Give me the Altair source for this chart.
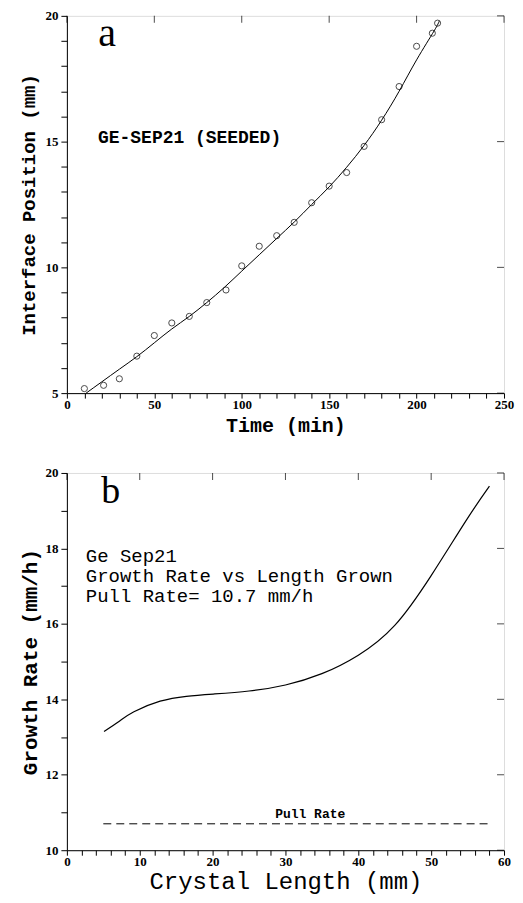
import altair as alt
import pandas as pd

# ---- panel a data ----
t_obs = [10, 21, 30, 40, 50, 60, 70, 80, 91, 100, 110, 120, 130, 140, 150, 160, 170, 180, 190, 200, 209, 212]
pos_obs = [5.18, 5.31, 5.57, 6.47, 7.29, 7.79, 8.05, 8.60, 9.10, 10.06, 10.84, 11.26, 11.79, 12.57, 13.23, 13.77, 14.81, 15.87, 17.19, 18.79, 19.31, 19.71]
t_fit = [11, 20, 30, 40, 50, 60, 70, 80, 90, 100, 110, 120, 130, 140, 150, 160, 170, 180, 190, 200, 210, 213]
pos_fit = [5.0, 5.45, 5.95, 6.45, 7.0, 7.55, 8.05, 8.6, 9.2, 9.85, 10.5, 11.15, 11.8, 12.5, 13.2, 13.98, 14.85, 15.85, 17.0, 18.25, 19.4, 19.8]
xa_major = [0, 50, 100, 150, 200, 250]
ya_major = [5, 10, 15, 20]

# ---- panel b data ----
len_b = [5.1, 7.2, 9.2, 12.8, 16.4, 20.1, 25, 30, 35, 40, 45, 50, 54.9, 58]
rate_b = [13.15, 13.42, 13.67, 13.95, 14.08, 14.14, 14.22, 14.38, 14.68, 15.17, 15.96, 17.28, 18.77, 19.65]
pull_x = [5, 58]
pull_y = [10.7, 10.7]
info_lines = ["Ge Sep21", "Growth Rate vs Length Grown", "Pull Rate= 10.7 mm/h"]
xb_major = [0, 10, 20, 30, 40, 50, 60]
yb_major = [10, 12, 14, 16, 18, 20]

W, H = 438, 378
MONO = "Liberation Mono"
SERIF = "Liberation Serif"


def xaxis(vals, labvals, title, tsize, tweight, tpad):
    lab = " || ".join(f"datum.value == {v}" for v in labvals)
    return alt.Axis(values=vals, labelExpr=f"({lab}) ? datum.label : ''", title=title,
                    titleFont=MONO, titleFontSize=tsize, titleFontWeight=tweight,
                    labelFont=SERIF, labelFontSize=13, labelFontWeight="bold",
                    tickSize=5, labelPadding=0, titlePadding=tpad, grid=False,
                    domainColor="black", tickColor="black", labelColor="black",
                    titleColor="black", labelOverlap=False, labelFlush=False)


def yaxis(vals, labvals, title, tsize, tpad):
    lab = " || ".join(f"datum.value == {v}" for v in labvals)
    return alt.Axis(values=vals, labelExpr=f"({lab}) ? datum.label : ''", title=title,
                    titleFont=MONO, titleFontSize=tsize, titleFontWeight="bold",
                    labelFont=SERIF, labelFontSize=13, labelFontWeight="bold",
                    tickSize=6, labelPadding=3, titlePadding=tpad, grid=False,
                    domainColor="black", tickColor="black", labelColor="black",
                    titleColor="black", labelOverlap=False, labelFlush=False)


def mirror_ticks(xvals, yvals, xs, ys, axx, axy):
    top = alt.Chart(pd.DataFrame({"v": xvals})).mark_tick(
        color="black", orient="vertical", size=7, thickness=1).encode(
        x=alt.X("v:Q", scale=xs, axis=axx), y=alt.value(3.5))
    right = alt.Chart(pd.DataFrame({"v": yvals})).mark_tick(
        color="black", orient="horizontal", size=7, thickness=1).encode(
        y=alt.Y("v:Q", scale=ys, axis=axy), x=alt.value(W - 3.5))
    return top, right


# ---------- panel a ----------
xa_vals = list(range(0, 251, 10))
ya_vals = list(range(5, 21, 1))
xs_a = alt.Scale(domain=[0, 250], nice=False)
ys_a = alt.Scale(domain=[5, 20], nice=False)
ax_xa = xaxis(xa_vals, xa_major, "Time (min)", 20, "bold", 4)
ax_ya = yaxis(ya_vals, ya_major, "Interface Position (mm)", 19, 6)

obs = pd.DataFrame({"t": t_obs, "p": pos_obs})
fit = pd.DataFrame({"t": t_fit, "p": pos_fit})

pts = alt.Chart(obs).mark_point(shape="circle", filled=False, color="black", size=38, strokeWidth=1).encode(
    x=alt.X("t:Q", scale=xs_a, axis=ax_xa),
    y=alt.Y("p:Q", scale=ys_a, axis=ax_ya),
)
fit_line = alt.Chart(fit).mark_line(color="black", strokeWidth=1, interpolate="natural").encode(
    x=alt.X("t:Q", scale=xs_a, axis=ax_xa),
    y=alt.Y("p:Q", scale=ys_a, axis=ax_ya),
)
lab_a = alt.Chart(pd.DataFrame({"t": [18], "p": [19.28], "s": ["a"]})).mark_text(
    font=SERIF, fontSize=40, align="left", baseline="middle", color="black").encode(
    x=alt.X("t:Q", scale=xs_a, axis=ax_xa), y=alt.Y("p:Q", scale=ys_a, axis=ax_ya), text="s:N")
name_a = alt.Chart(pd.DataFrame({"t": [17.8], "p": [15.15], "s": ["GE-SEP21 (SEEDED)"]})).mark_text(
    font=MONO, fontSize=18, fontWeight="bold", align="left", baseline="middle", color="black").encode(
    x=alt.X("t:Q", scale=xs_a, axis=ax_xa), y=alt.Y("p:Q", scale=ys_a, axis=ax_ya), text="s:N")
top_a, right_a = mirror_ticks(xa_major, ya_major, xs_a, ys_a, ax_xa, ax_ya)

panel_a = alt.layer(pts, fit_line, lab_a, name_a, top_a, right_a).properties(width=W, height=H)

# ---------- panel b ----------
xb_vals = list(range(0, 61, 2))
yb_vals = list(range(10, 21, 1))
xs_b = alt.Scale(domain=[0, 60], nice=False)
ys_b = alt.Scale(domain=[10, 20], nice=False)
ax_xb = xaxis(xb_vals, xb_major, "Crystal Length (mm)", 24, "normal", 1)
ax_yb = yaxis(yb_vals, yb_major, "Growth Rate (mm/h)", 21, 4)

curve = pd.DataFrame({"L": len_b, "r": rate_b})
pull = pd.DataFrame({"L": pull_x, "r": pull_y})

curve_line = alt.Chart(curve).mark_line(color="black", strokeWidth=1.2, interpolate="natural").encode(
    x=alt.X("L:Q", scale=xs_b, axis=ax_xb),
    y=alt.Y("r:Q", scale=ys_b, axis=ax_yb),
)
pull_line = alt.Chart(pull).mark_line(color="black", strokeWidth=1, strokeDash=[8, 5]).encode(
    x=alt.X("L:Q", scale=xs_b, axis=ax_xb),
    y=alt.Y("r:Q", scale=ys_b, axis=ax_yb),
)
pull_lab = alt.Chart(pd.DataFrame({"L": [33.4], "r": [10.95], "s": ["Pull Rate"]})).mark_text(
    font=MONO, fontSize=13, fontWeight="bold", align="center", baseline="middle", color="black").encode(
    x=alt.X("L:Q", scale=xs_b, axis=ax_xb), y=alt.Y("r:Q", scale=ys_b, axis=ax_yb), text="s:N")
lab_b = alt.Chart(pd.DataFrame({"L": [4.7], "r": [19.5], "s": ["b"]})).mark_text(
    font=SERIF, fontSize=38, align="left", baseline="middle", color="black").encode(
    x=alt.X("L:Q", scale=xs_b, axis=ax_xb), y=alt.Y("r:Q", scale=ys_b, axis=ax_yb), text="s:N")
info = alt.Chart(pd.DataFrame({"L": [2.6], "r": [17.80], "s": ["\n".join(info_lines)]})).mark_text(
    font=MONO, fontSize=19, lineHeight=20, lineBreak="\n", align="left", baseline="middle",
    color="black").encode(
    x=alt.X("L:Q", scale=xs_b, axis=ax_xb), y=alt.Y("r:Q", scale=ys_b, axis=ax_yb), text="s:N")
top_b, right_b = mirror_ticks(xb_major, yb_major, xs_b, ys_b, ax_xb, ax_yb)

panel_b = alt.layer(curve_line, pull_line, pull_lab, lab_b, info, top_b, right_b).properties(width=W, height=H)

chart = alt.vconcat(panel_a, panel_b, spacing=30).properties(
    padding={"left": 11, "top": 0, "right": 0, "bottom": 0}
).configure_view(stroke="black", strokeWidth=1).configure(background="white")

chart.save("out.html", embed_options={"renderer": "svg", "actions": False})
